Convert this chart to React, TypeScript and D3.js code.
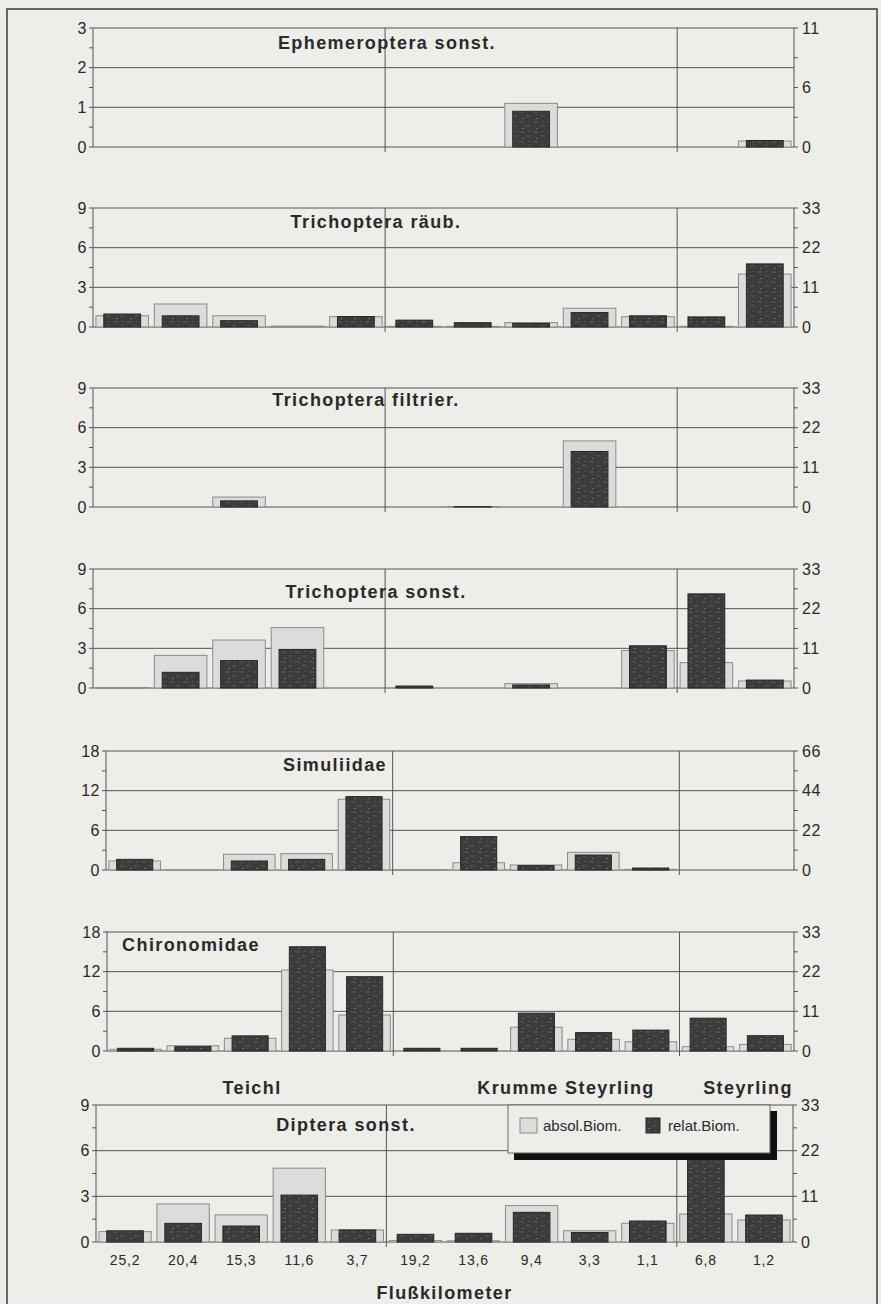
import React from "react";
import * as d3 from "d3";

// ---- data ----
const categories = ["25,2", "20,4", "15,3", "11,6", "3,7", "19,2", "13,6", "9,4", "3,3", "1,1", "6,8", "1,2"];
const rivers = ["Teichl", "Krumme Steyrling", "Steyrling"];
const seriesNames = ["absol.Biom.", "relat.Biom."];
const xAxisTitle = "Flußkilometer";

const ephemAbs = [0, 0, 0, 0, 0, 0, 0, 1.1, 0, 0, 0, 0.15];
const ephemRel = [0, 0, 0, 0, 0, 0, 0, 3.3, 0, 0, 0, 0.6];
const trichRaubAbs = [0.85, 1.74, 0.85, 0.07, 0.78, 0.05, 0.05, 0.33, 1.42, 0.78, 0.05, 4.0];
const trichRaubRel = [3.6, 3.1, 1.75, 0, 2.9, 1.9, 1.2, 1.0, 4.0, 3.1, 2.8, 17.5];
const trichFiltAbs = [0, 0, 0.75, 0, 0, 0, 0.03, 0, 5.0, 0, 0, 0];
const trichFiltRel = [0, 0, 1.7, 0, 0, 0, 0.1, 0, 15.4, 0, 0, 0];
const trichSonstAbs = [0.03, 2.47, 3.63, 4.57, 0, 0, 0, 0.33, 0, 2.83, 1.92, 0.53];
const trichSonstRel = [0, 4.35, 7.6, 10.7, 0, 0.55, 0, 0.85, 0, 11.7, 26.1, 2.2];
const simAbs = [1.36, 0.03, 2.37, 2.47, 10.7, 0.05, 1.1, 0.76, 2.67, 0.1, 0, 0];
const simRel = [5.9, 0, 5.0, 5.9, 40.7, 0, 18.5, 2.4, 8.3, 1.1, 0, 0];
const chiAbs = [0.25, 0.8, 1.92, 12.25, 5.45, 0, 0, 3.6, 1.77, 1.4, 0.65, 1.0];
const chiRel = [0.75, 1.2, 4.2, 28.9, 20.6, 0.75, 0.75, 10.5, 5.1, 5.8, 9.1, 4.25];
const dipAbs = [0.68, 2.5, 1.78, 4.85, 0.79, 0.1, 0.08, 2.39, 0.74, 1.23, 1.84, 1.45];
const dipRel = [2.7, 4.5, 3.85, 11.3, 2.9, 1.85, 2.1, 7.15, 2.3, 5.06, 26, 6.5];

// ---- layout ----
const W = 881;
const H = 1304;
const BG = "#edede9";
const LINE = "#555";
const TEXT = "#2a2a2a";
const FONT = "'Liberation Sans', Arial, sans-serif";

type Panel = {
  title: string; abs: number[]; rel: number[];
  leftMax: number; leftStep: number; rightMax: number; rightStep: number;
  top: number; bottom: number; left: number; right: number;
  titleX: number; titleY: number; last?: boolean;
};

const panels: Panel[] = [
  { title: "Ephemeroptera sonst.", abs: ephemAbs, rel: ephemRel, leftMax: 3, leftStep: 1, rightMax: 11, rightStep: 5.5, top: 28, bottom: 147, left: 93, right: 794, titleX: 387, titleY: 49 },
  { title: "Trichoptera räub.", abs: trichRaubAbs, rel: trichRaubRel, leftMax: 9, leftStep: 3, rightMax: 33, rightStep: 11, top: 208, bottom: 327, left: 93, right: 794, titleX: 376, titleY: 228 },
  { title: "Trichoptera filtrier.", abs: trichFiltAbs, rel: trichFiltRel, leftMax: 9, leftStep: 3, rightMax: 33, rightStep: 11, top: 388, bottom: 507, left: 93, right: 794, titleX: 366, titleY: 406 },
  { title: "Trichoptera sonst.", abs: trichSonstAbs, rel: trichSonstRel, leftMax: 9, leftStep: 3, rightMax: 33, rightStep: 11, top: 569, bottom: 688, left: 93, right: 794, titleX: 376, titleY: 598 },
  { title: "Simuliidae", abs: simAbs, rel: simRel, leftMax: 18, leftStep: 6, rightMax: 66, rightStep: 22, top: 751, bottom: 870, left: 106, right: 794, titleX: 335, titleY: 771 },
  { title: "Chironomidae", abs: chiAbs, rel: chiRel, leftMax: 18, leftStep: 6, rightMax: 33, rightStep: 11, top: 932, bottom: 1051, left: 107, right: 794, titleX: 191, titleY: 951 },
  { title: "Diptera sonst.", abs: dipAbs, rel: dipRel, leftMax: 9, leftStep: 3, rightMax: 33, rightStep: 11, top: 1105, bottom: 1242, left: 96, right: 793, titleX: 346, titleY: 1131, last: true },
];

function range(max: number, step: number) {
  const out: number[] = [];
  for (let v = 0; v <= max + 1e-9; v += step) out.push(v);
  return out;
}

function PanelView({ p }: { p: Panel }) {
  const x = d3.scaleBand<number>().domain(categories.map((_, i) => i)).range([p.left, p.right]).padding(0);
  const yL = d3.scaleLinear().domain([0, p.leftMax]).range([p.bottom, p.top]);
  const yR = d3.scaleLinear().domain([0, p.rightMax]).range([p.bottom, p.top]);
  const bw = x.bandwidth();
  const lightW = bw * 0.9;
  const darkW = bw * 0.63;
  const majL = range(p.leftMax, p.leftStep);
  const minL = range(p.leftMax, p.leftStep / 2);
  const majR = range(p.rightMax, p.rightStep);
  const minR = range(p.rightMax, p.rightStep / 2);
  const dividers = [5, 10].map((i) => (x(i) as number));
  return (
    <g>
      {/* gridlines */}
      {majL.map((v) => (
        <line key={"g" + v} x1={p.left} x2={p.right} y1={yL(v)} y2={yL(v)} stroke={LINE} strokeWidth={1} />
      ))}
      {/* light bars (absolute) */}
      {p.abs.map((v, i) =>
        v > 0 ? (
          <rect key={"a" + i} x={(x(i) as number) + (bw - lightW) / 2} y={yL(v)} width={lightW} height={p.bottom - yL(v)}
            fill="#dcdcda" stroke="#8a8a8a" strokeWidth={1} />
        ) : null
      )}
      {/* dark bars (relative) */}
      {p.rel.map((v, i) =>
        v > 0 ? (
          <rect key={"r" + i} x={(x(i) as number) + (bw - darkW) / 2} y={yR(v)} width={darkW} height={p.bottom - yR(v)}
            fill="url(#darkTex)" stroke="#262626" strokeWidth={1} />
        ) : null
      )}
      {/* dividers */}
      {dividers.map((dx, k) => (
        <line key={"d" + k} x1={dx} x2={dx} y1={p.top} y2={p.bottom + 5} stroke={LINE} strokeWidth={1} />
      ))}
      {/* left axis */}
      <line x1={p.left} x2={p.left} y1={p.top} y2={p.bottom} stroke={LINE} />
      {minL.map((v) => (
        <line key={"lt" + v} x1={p.left - 4} x2={p.left} y1={yL(v)} y2={yL(v)} stroke={LINE} />
      ))}
      {majL.map((v) => (
        <text key={"ll" + v} x={p.left - 6} y={yL(v)} dy="0.36em" textAnchor="end" fontSize={16} letterSpacing={0.5} fill={TEXT} fontFamily={FONT}>
          {d3.format("d")(v)}
        </text>
      ))}
      {/* right axis */}
      <line x1={p.right} x2={p.right} y1={p.top} y2={p.bottom} stroke={LINE} />
      {minR.map((v) => (
        <line key={"rt" + v} x1={p.right} x2={p.right + 4} y1={yR(v)} y2={yR(v)} stroke={LINE} />
      ))}
      {majR.map((v) => (
        <text key={"rl" + v} x={p.right + 8} y={yR(v)} dy="0.36em" textAnchor="start" fontSize={16} letterSpacing={0.5} fill={TEXT} fontFamily={FONT}>
          {String(Math.round(v))}
        </text>
      ))}
      {/* title */}
      <text x={p.titleX} y={p.titleY} textAnchor="middle" fontSize={18} fontWeight="bold" letterSpacing={1.4} fill={TEXT} fontFamily={FONT}>
        {p.title}
      </text>
      {p.last &&
        categories.map((c, i) => (
          <text key={"x" + i} x={(x(i) as number) + bw / 2} y={p.bottom + 23} textAnchor="middle" fontSize={14} letterSpacing={0.8} fill={TEXT} fontFamily={FONT}>
            {c}
          </text>
        ))}
    </g>
  );
}

export default function App() {
  const last = panels[panels.length - 1];
  return (
    <svg width={W} height={H} style={{ position: "absolute", left: 0, top: 0, background: BG }} xmlns="http://www.w3.org/2000/svg">
      <defs>
        <pattern id="darkTex" width="14" height="10" patternUnits="userSpaceOnUse">
          <rect width="14" height="10" fill="#3b3b3b" />
          <line x1="1" y1="2" x2="6" y2="2" stroke="#5e5e5e" strokeWidth="1" />
          <line x1="8" y1="6" x2="13" y2="6" stroke="#5a5a5a" strokeWidth="1" />
          <rect x="4" y="8" width="2" height="1" fill="#707070" />
          <rect x="10" y="1" width="1" height="1" fill="#6a6a6a" />
        </pattern>
      </defs>
      <rect x={0} y={0} width={W} height={H} fill={BG} />
      <rect x={7} y={9} width={870} height={1310} fill="none" stroke="#3a3a3a" strokeWidth={1.5} />
      {panels.map((p, i) => (
        <PanelView key={i} p={p} />
      ))}
      {/* river group labels */}
      {rivers.map((r, i) => {
        const xs = [252, 566, 748];
        return (
          <text key={r} x={xs[i]} y={1094} textAnchor="middle" fontSize={18} fontWeight="bold" letterSpacing={1.4} fill={TEXT} fontFamily={FONT}>
            {r}
          </text>
        );
      })}
      {/* legend */}
      <g>
        <rect x={514} y={1111} width={263} height={49} fill="#111" />
        <rect x={508} y={1105} width={262} height={48} fill={BG} stroke="#666" strokeWidth={1} />
        <rect x={520} y={1118} width={17} height={15} fill="#dcdcda" stroke="#8a8a8a" />
        <text x={543} y={1131} fontSize={15} fill={TEXT} fontFamily={FONT}>{seriesNames[0]}</text>
        <rect x={646} y={1118} width={14} height={15} fill="url(#darkTex)" stroke="#262626" />
        <text x={668} y={1131} fontSize={15} fill={TEXT} fontFamily={FONT}>{seriesNames[1]}</text>
      </g>
      <text x={(last.left + last.right) / 2 + 0} y={1299} textAnchor="middle" fontSize={18} fontWeight="bold" letterSpacing={1.4} fill={TEXT} fontFamily={FONT}>
        {xAxisTitle}
      </text>
    </svg>
  );
}
